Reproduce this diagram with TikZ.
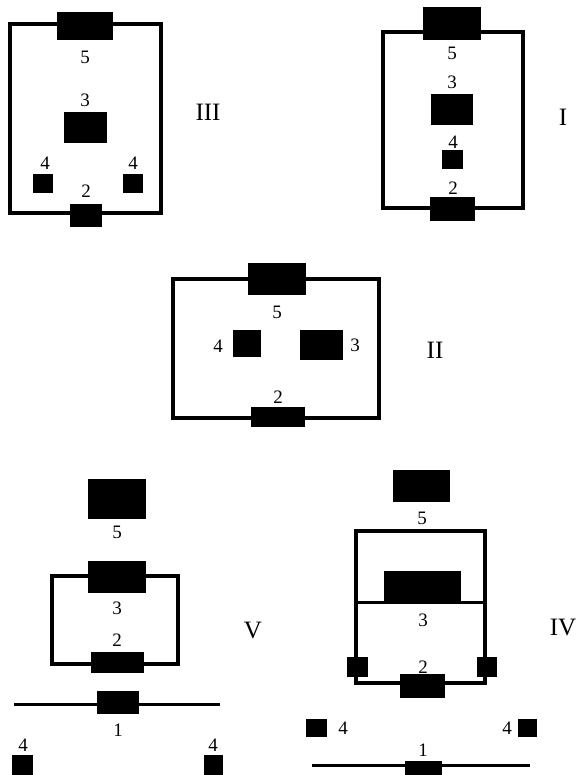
\documentclass[tikz,border=0pt]{standalone}
\usepackage{fontspec}
\setmainfont{Liberation Serif}
\begin{document}
\begin{tikzpicture}[x=1pt,y=-1pt,
  blk/.style={fill=black,draw=none,inner sep=0pt,rectangle},
  lbl/.style={inner sep=0pt,font=\fontsize{19}{19}\selectfont},
  rom/.style={inner sep=0pt,font=\fontsize{25}{25}\selectfont},
  wire/.style={line width=3.5pt,line cap=rect},
  thinwire/.style={line width=3pt}]
\useasboundingbox (0,0) rectangle (585,775);
% ---------- III ----------
\coordinate (c3a) at (10,24); \coordinate (c3b) at (161,213);
\draw[wire] (c3a) rectangle (c3b);
\node[blk,minimum width=56pt,minimum height=28pt] (III5) at (85,26) {};
\node[blk,minimum width=43pt,minimum height=31pt] (III3) at (85.5,127.5) {};
\node[blk,minimum width=20pt,minimum height=19pt] (III4a) at (43,183.5) {};
\node[blk,minimum width=20pt,minimum height=19pt] (III4b) at (133,183.5) {};
\node[blk,minimum width=32pt,minimum height=23pt] (III2) at (86,215.5) {};
\node[lbl] (tIII5) at (85,57) {5};
\node[lbl] (tIII3) at (85,100) {3};
\node[lbl] (tIII4a) at (45,163) {4};
\node[lbl] (tIII4b) at (133,163) {4};
\node[lbl] (tIII2) at (86,191) {2};
\node[rom] (nIII) at (208,112) {III};
% ---------- I ----------
\coordinate (c1a) at (383,32); \coordinate (c1b) at (523,208);
\draw[wire] (c1a) rectangle (c1b);
\node[blk,minimum width=58pt,minimum height=33pt] (I5) at (452,23.5) {};
\node[blk,minimum width=42pt,minimum height=31pt] (I3) at (452,109.5) {};
\node[blk,minimum width=21pt,minimum height=19pt] (I4) at (452.5,159.5) {};
\node[blk,minimum width=45pt,minimum height=24pt] (I2) at (452.5,209) {};
\node[lbl] (tI5) at (452,53) {5};
\node[lbl] (tI3) at (452,82) {3};
\node[lbl] (tI4) at (453,142) {4};
\node[lbl] (tI2) at (453,188) {2};
\node[rom] (nI) at (563,117) {I};
% ---------- II ----------
\coordinate (c2a) at (173,279); \coordinate (c2b) at (379,418);
\draw[wire] (c2a) rectangle (c2b);
\node[blk,minimum width=58pt,minimum height=32pt] (II5) at (277,279) {};
\node[blk,minimum width=28pt,minimum height=27pt] (II4) at (247,343.5) {};
\node[blk,minimum width=43pt,minimum height=30pt] (II3) at (321.5,345) {};
\node[blk,minimum width=54pt,minimum height=20pt] (II2) at (278,417) {};
\node[lbl] (tII5) at (277,312) {5};
\node[lbl] (tII4) at (218,346) {4};
\node[lbl] (tII3) at (355,345) {3};
\node[lbl] (tII2) at (278,397) {2};
\node[rom] (nII) at (435,350) {II};
% ---------- V ----------
\node[blk,minimum width=58pt,minimum height=40pt] (V5) at (117,499) {};
\coordinate (c5a) at (52,576); \coordinate (c5b) at (178,664);
\draw[wire] (c5a) rectangle (c5b);
\node[blk,minimum width=58pt,minimum height=32pt] (V3) at (117,577) {};
\node[blk,minimum width=53pt,minimum height=21pt] (V2) at (117.5,662.5) {};
\coordinate (V1l) at (14,704); \coordinate (V1r) at (220,704);
\draw[thinwire] (V1l) -- (V1r);
\node[blk,minimum width=42pt,minimum height=23pt] (V1) at (118,702.5) {};
\node[blk,minimum width=21pt,minimum height=22pt] (V4a) at (22.5,766) {};
\node[blk,minimum width=19pt,minimum height=22pt] (V4b) at (213.5,766) {};
\node[lbl] (tV5) at (117,532) {5};
\node[lbl] (tV3) at (117,608) {3};
\node[lbl] (tV2) at (117,640) {2};
\node[lbl] (tV1) at (118,730) {1};
\node[lbl] (tV4a) at (23,745) {4};
\node[lbl] (tV4b) at (213,745) {4};
\node[rom] (nV) at (253,630) {V};
% ---------- IV ----------
\node[blk,minimum width=57pt,minimum height=32pt] (IV5) at (421.5,486) {};
\coordinate (c4tl) at (356,531); \coordinate (c4tr) at (485,531);
\coordinate (c4bl) at (356,683); \coordinate (c4br) at (485,683);
\coordinate (c4ml) at (356,602); \coordinate (c4mr) at (485,602);
\draw[wire] (c4bl) -- (c4tl) -- (c4tr) -- (c4br) -- cycle;
\draw[line width=3pt] (c4ml) -- (c4mr);
\node[blk,minimum width=77pt,minimum height=31pt] (IV3) at (422.5,586.5) {};
\node[blk,minimum width=21pt,minimum height=20pt] (IV4c) at (357.5,667) {};
\node[blk,minimum width=20pt,minimum height=20pt] (IV4d) at (487,667) {};
\node[blk,minimum width=45pt,minimum height=24pt] (IV2) at (422.5,686) {};
\node[blk,minimum width=21pt,minimum height=18pt] (IV4a) at (316.5,728) {};
\node[blk,minimum width=19pt,minimum height=18pt] (IV4b) at (527.5,728) {};
\coordinate (IV1l) at (312,765); \coordinate (IV1r) at (530,765);
\draw[thinwire] (IV1l) -- (IV1r);
\node[blk,minimum width=37pt,minimum height=20pt] (IV1) at (423.5,771) {};
\node[lbl] (tIV5) at (422,518) {5};
\node[lbl] (tIV3) at (423,620) {3};
\node[lbl] (tIV2) at (423,667) {2};
\node[lbl] (tIV4a) at (343,728) {4};
\node[lbl] (tIV4b) at (507,728) {4};
\node[lbl] (tIV1) at (423,750) {1};
\node[rom] (nIV) at (563,627) {IV};
\end{tikzpicture}
\end{document}
